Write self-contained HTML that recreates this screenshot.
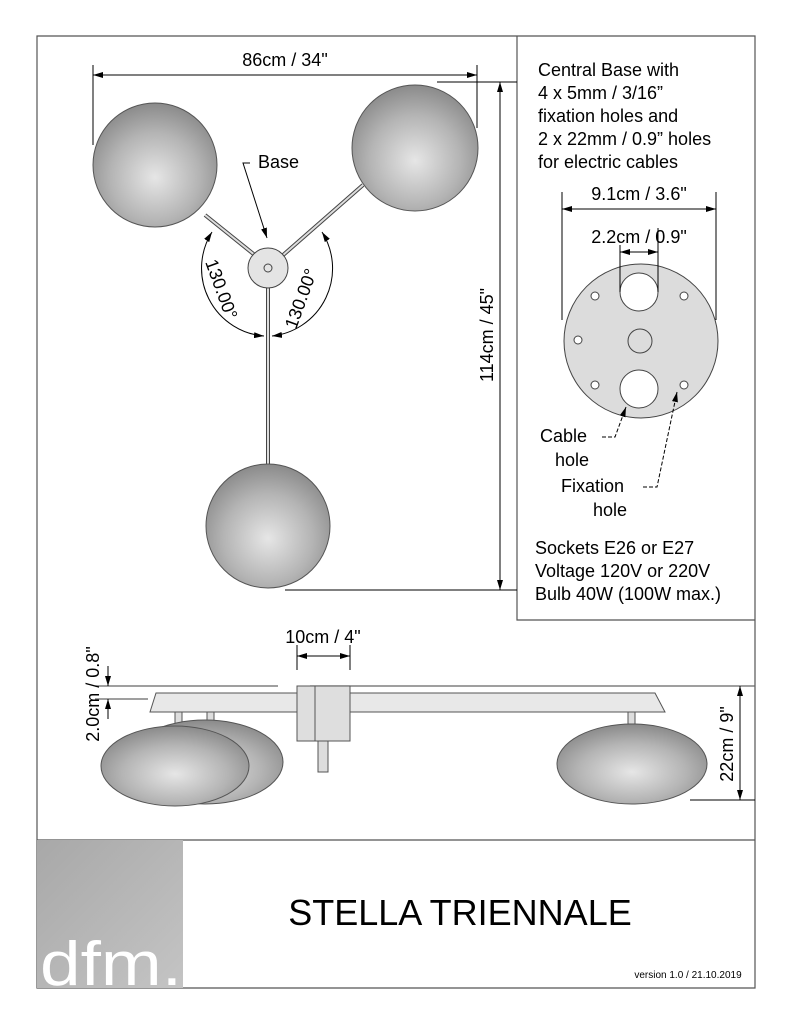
<!DOCTYPE html>
<html><head><meta charset="utf-8"><style>
html,body{margin:0;padding:0;background:#fff;}
svg{display:block;font-family:"Liberation Sans",Arial,sans-serif;}
</style></head><body>
<svg width="791" height="1024" viewBox="0 0 791 1024" xmlns="http://www.w3.org/2000/svg">
<defs>
<radialGradient id="sp" cx="50%" cy="60%" r="60%">
<stop offset="0" stop-color="#e6e6e6"/><stop offset="0.6" stop-color="#b4b4b4"/><stop offset="1" stop-color="#8a8a8a"/>
</radialGradient>
<linearGradient id="gb" x1="0" y1="0" x2="1" y2="1"><stop offset="0" stop-color="#a8a8a8"/><stop offset="1" stop-color="#c4c4c4"/></linearGradient>
<marker id="ar" markerWidth="10" markerHeight="6" refX="10" refY="3" orient="auto-start-reverse" markerUnits="userSpaceOnUse"><path d="M0,0 L10,3 L0,6z" fill="#000"/></marker>
</defs>
<g fill="none" stroke="#555" stroke-width="1.2">
<path d="M37,988 V36 H755 V988 Z"/>
<line x1="37" y1="840" x2="755" y2="840"/>
<path d="M517,36 V620 H755"/>
</g>
<rect x="37" y="840" width="146" height="148" fill="url(#gb)"/>
<text x="40" y="985" font-size="62" fill="#fff" textLength="142" lengthAdjust="spacingAndGlyphs">dfm.</text>
<text x="460" y="925" font-size="36" text-anchor="middle">STELLA TRIENNALE</text>
<text x="688" y="978" font-size="10" text-anchor="middle">version 1.0 / 21.10.2019</text>

<!-- top view -->
<g stroke="#444" stroke-width="1">
<line x1="205" y1="215" x2="256" y2="256" stroke-width="4"/><line x1="205" y1="215" x2="256" y2="256" stroke="#ddd" stroke-width="2"/>
<line x1="363" y1="185" x2="282" y2="256" stroke-width="4"/><line x1="363" y1="185" x2="282" y2="256" stroke="#ddd" stroke-width="2"/>
<line x1="268" y1="288" x2="268" y2="470" stroke-width="4"/><line x1="268" y1="288" x2="268" y2="470" stroke="#ddd" stroke-width="2"/>
</g>
<circle cx="155" cy="165" r="62" fill="url(#sp)" stroke="#555"/>
<circle cx="415" cy="148" r="63" fill="url(#sp)" stroke="#555"/>
<circle cx="268" cy="526" r="62" fill="url(#sp)" stroke="#555"/>
<circle cx="268" cy="268" r="20" fill="#e4e4e4" stroke="#444"/>
<circle cx="268" cy="268" r="4" fill="none" stroke="#444"/>
<g fill="none" stroke="#000" stroke-width="1">
<path d="M212,232 A68,68 0 0 0 264,336" marker-start="url(#ar)" marker-end="url(#ar)"/>
<path d="M322,232 A68,68 0 0 1 272,336" marker-start="url(#ar)" marker-end="url(#ar)"/>
<path d="M250,163 H243 L267,238" marker-end="url(#ar)"/>
<line x1="93" y1="75" x2="477" y2="75" marker-start="url(#ar)" marker-end="url(#ar)"/>
<line x1="93" y1="65" x2="93" y2="145"/><line x1="477" y1="65" x2="477" y2="128"/>
<line x1="500" y1="82" x2="500" y2="590" marker-start="url(#ar)" marker-end="url(#ar)"/>
<line x1="437" y1="82" x2="517" y2="82"/><line x1="285" y1="590" x2="517" y2="590"/>
</g>
<text x="285" y="66" font-size="18" text-anchor="middle">86cm / 34"</text>
<text x="258" y="168" font-size="18">Base</text>
<text font-size="18" transform="translate(205,262) rotate(70)">130.00°</text>
<text font-size="18" transform="translate(296,330) rotate(-70)">130.00°</text>
<text font-size="18" text-anchor="middle" transform="translate(493,335) rotate(-90)">114cm / 45"</text>

<!-- right panel -->
<g font-size="18">
<text x="538" y="76">Central Base with</text>
<text x="538" y="99">4 x 5mm / 3/16”</text>
<text x="538" y="122">fixation holes and</text>
<text x="538" y="145">2 x 22mm / 0.9” holes</text>
<text x="538" y="168">for electric cables</text>
<text x="639" y="200" text-anchor="middle">9.1cm / 3.6"</text>
<text x="639" y="243" text-anchor="middle">2.2cm / 0.9"</text>
<text x="540" y="442">Cable</text><text x="555" y="466">hole</text>
<text x="561" y="492">Fixation</text><text x="593" y="516">hole</text>
<text x="535" y="554">Sockets E26 or E27</text>
<text x="535" y="577">Voltage 120V or 220V</text>
<text x="535" y="600">Bulb 40W (100W max.)</text>
</g>
<circle cx="641" cy="341" r="77" fill="#dcdcdc" stroke="#444"/>
<g fill="#fff" stroke="#444">
<circle cx="639" cy="292" r="19"/><circle cx="639" cy="389" r="19"/>
<circle cx="640" cy="341" r="12" fill="#dcdcdc"/>
<circle cx="595" cy="296" r="4"/><circle cx="684" cy="296" r="4"/><circle cx="578" cy="340" r="4"/>
<circle cx="595" cy="385" r="4"/><circle cx="684" cy="385" r="4"/>
</g>
<g fill="none" stroke="#000" stroke-width="1">
<line x1="562" y1="209" x2="716" y2="209" marker-start="url(#ar)" marker-end="url(#ar)"/>
<line x1="562" y1="192" x2="562" y2="320"/><line x1="716" y1="192" x2="716" y2="320"/>
<line x1="620" y1="252" x2="658" y2="252" marker-start="url(#ar)" marker-end="url(#ar)"/>
<line x1="620" y1="245" x2="620" y2="292"/><line x1="658" y1="228" x2="658" y2="292"/>
<path d="M602,437 H615 L626,407" stroke-dasharray="4,2" marker-end="url(#ar)"/>
<path d="M643,487 H657 L677,392" stroke-dasharray="4,2" marker-end="url(#ar)"/>
</g>

<!-- side view -->
<g stroke="#666" stroke-width="1.2">
<line x1="95" y1="686" x2="278" y2="686"/><line x1="310" y1="686" x2="755" y2="686"/>
<line x1="95" y1="699" x2="148" y2="699"/>
</g>
<polygon points="156,693 310,693 310,712 150,712" fill="#e8e8e8" stroke="#555"/>
<polygon points="350,693 655,693 665,712 350,712" fill="#e8e8e8" stroke="#555"/>
<rect x="297" y="686" width="53" height="55" fill="#dedede" stroke="#555"/>
<line x1="315" y1="686" x2="315" y2="741" stroke="#555"/>
<rect x="318" y="741" width="10" height="31" fill="#ddd" stroke="#555"/>
<rect x="175" y="712" width="7" height="12" fill="#ddd" stroke="#555"/>
<rect x="207" y="712" width="7" height="12" fill="#ddd" stroke="#555"/>
<rect x="628" y="712" width="7" height="12" fill="#ddd" stroke="#555"/>
<ellipse cx="205" cy="762" rx="78" ry="42" fill="url(#sp)" stroke="#555"/>
<ellipse cx="175" cy="766" rx="74" ry="40" fill="url(#sp)" stroke="#555"/>
<ellipse cx="632" cy="764" rx="75" ry="40" fill="url(#sp)" stroke="#555"/>
<g fill="none" stroke="#000" stroke-width="1">
<line x1="297" y1="656" x2="350" y2="656" marker-start="url(#ar)" marker-end="url(#ar)"/>
<line x1="297" y1="645" x2="297" y2="670"/><line x1="350" y1="645" x2="350" y2="670"/>
<line x1="108" y1="666" x2="108" y2="686" marker-end="url(#ar)"/>
<line x1="108" y1="719" x2="108" y2="699" marker-end="url(#ar)"/>
<line x1="740" y1="686" x2="740" y2="800" marker-start="url(#ar)" marker-end="url(#ar)"/>
<line x1="690" y1="800" x2="755" y2="800"/>
</g>
<text x="323" y="643" font-size="18" text-anchor="middle">10cm / 4"</text>
<text font-size="18" text-anchor="middle" transform="translate(99,694) rotate(-90)">2.0cm / 0.8"</text>
<text font-size="18" text-anchor="middle" transform="translate(733,744) rotate(-90)">22cm / 9"</text>
</svg>
</body></html>
